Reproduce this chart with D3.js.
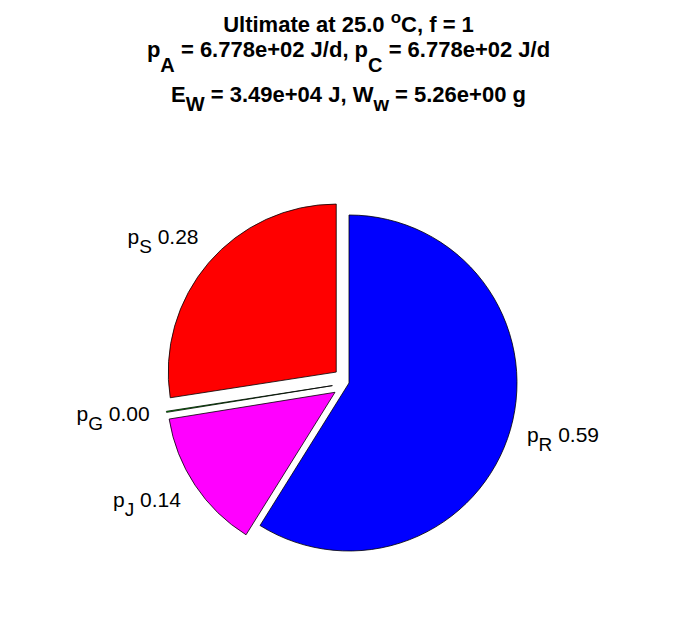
<!DOCTYPE html>
<html>
<head>
<meta charset="utf-8">
<script src="https://cdn.jsdelivr.net/npm/d3@7"></script>
<style>
  html, body { margin: 0; padding: 0; background: #fff; }
  svg { display: block; font-family: "Liberation Sans", Arial, Helvetica, sans-serif; }
</style>
</head>
<body>
<svg id="chart" width="696" height="618"></svg>
<script>
// ---- data ----
const sliceNames  = ["R", "J", "G", "S"];
const sliceValues = [0.590, 0.136, 0.001, 0.275];
const sliceLabels = ["0.59", "0.14", "0.00", "0.28"];
const sliceColors = ["#0000ff", "#ff00ff", "#00ff00", "#ff0000"];
const sliceExplode = [0, 1, 1, 1];

const titleTemp = "25.0";
const titleF = "1";
const pA = "6.778e+02";
const pC = "6.778e+02";
const EW = "3.49e+04";
const Ww = "5.26e+00";

// ---- layout ----
const cx = 349, cy = 383, R = 168;
const svg = d3.select("#chart");

// ---- title ----
const titleX = 348.5;
const tFont = 22;
function titleLine(y, parts) {
  const t = svg.append("text")
    .attr("x", titleX).attr("y", y)
    .attr("text-anchor", "middle")
    .attr("font-size", tFont).attr("font-weight", "bold").attr("fill", "#000");
  parts.forEach(p => {
    const s = t.append("tspan").text(p.t);
    if (p.dy) s.attr("dy", p.dy);
    if (p.fs) s.attr("font-size", p.fs);
  });
}
titleLine(32, [
  {t: "Ultimate at " + titleTemp + " "},
  {t: "o", dy: -9, fs: 17},
  {t: "C, f = " + titleF, dy: 9}
]);
titleLine(57, [
  {t: "p"},
  {t: "A", dy: 15, fs: 20},
  {t: " = " + pA + " J/d, p", dy: -15},
  {t: "C", dy: 15, fs: 20},
  {t: " = " + pC + " J/d", dy: -15}
]);
titleLine(102, [
  {t: "E"},
  {t: "W", dy: 9, fs: 20},
  {t: " = " + EW + " J, W", dy: -9},
  {t: "w", dy: 9, fs: 20},
  {t: " = " + Ww + " g", dy: -9}
]);

// ---- pie ----
const data = sliceNames.map((n, i) => ({
  name: n, value: sliceValues[i], label: sliceLabels[i],
  color: sliceColors[i], explode: sliceExplode[i]
}));

const pie = d3.pie().value(d => d.value).sort(null)
  .startAngle(0).endAngle(2 * Math.PI);
const arcs = pie(data);
const rScale = d3.scaleLinear().domain([0, 1]).range([0, R]);
const arc = d3.arc().innerRadius(0).outerRadius(rScale(1));

const g = svg.append("g").attr("transform", `translate(${cx},${cy})`);

function dirOf(a) {
  const mid = (a.startAngle + a.endAngle) / 2;
  return [Math.sin(mid), -Math.cos(mid)];
}
function offset(a, k) {
  const d = dirOf(a);
  return [d[0] * rScale(k), d[1] * rScale(k)];
}

g.selectAll("path.slice").data(arcs).enter().append("path")
  .attr("class", "slice")
  .attr("transform", d => {
    const o = d.data.explode ? offset(d, 0.1) : [0, 0];
    return `translate(${o[0]},${o[1]})`;
  })
  .attr("d", arc)
  .attr("fill", d => d.data.color)
  .attr("stroke", "#000")
  .attr("stroke-width", 0.8)
  .attr("stroke-linejoin", "miter");

// ---- labels ----
const lFont = 21;
arcs.forEach(d => {
  const e = d.data.explode ? offset(d, 0.1) : [0, 0];
  const p = offset(d, 1.2);
  const side = Math.sign(dirOf(d)[0]);
  const x = e[0] + p[0] + side * rScale(0.12);
  const y = e[1] + p[1] - 4;
  const t = g.append("text")
    .attr("x", x).attr("y", y + 0.36 * lFont)
    .attr("text-anchor", "middle")
    .attr("font-size", lFont).attr("fill", "#000");
  t.append("tspan").text("p");
  t.append("tspan").text(d.data.name).attr("dy", 9).attr("font-size", 19);
  t.append("tspan").text(" " + d.data.label).attr("dy", -9);
});
</script>
</body>
</html>
